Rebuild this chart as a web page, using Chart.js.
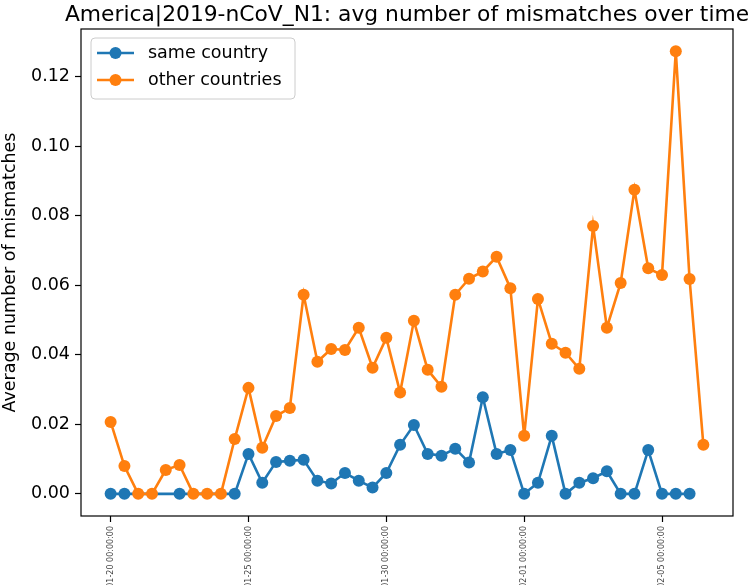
<!DOCTYPE html>
<html>
<head>
<meta charset="utf-8">
<script src="https://cdn.jsdelivr.net/npm/chart.js@4"></script>
<style>
html,body{margin:0;padding:0;background:#fff;overflow:hidden;}
#wrap{width:749px;height:585px;}
</style>
</head>
<body>
<div id="wrap"><canvas id="c" width="749" height="585"></canvas></div>
<script>
const chartTitle = 'America|2019-nCoV_N1: avg number of mismatches over time';
const yTitle = 'Average number of mismatches';
const seriesNames = ['same country', 'other countries'];
const tickIndex = [0, 10, 20, 30, 40];
const tickLabels = ['2020-01-20 00:00:00', '2020-01-25 00:00:00', '2020-01-30 00:00:00', '2020-02-01 00:00:00', '2020-02-05 00:00:00'];
const yTicks = [0, 0.02, 0.04, 0.06, 0.08, 0.10, 0.12];

const sameCountry = [0, 0, null, null, null, 0, null, null, null, 0,
  0.0115, 0.0032, 0.0092, 0.0095, 0.0098, 0.0038, 0.0030, 0.0060, 0.0038, 0.0018,
  0.0060, 0.0141, 0.0198, 0.0115, 0.0110, 0.0130, 0.0090, 0.0278, 0.0115, 0.0126,
  0, 0.0032, 0.0167, 0, 0.0032, 0.0045, 0.0065, 0, 0, 0.0126,
  0, 0, 0, null];
const otherCountries = [0.0207, 0.0080, 0, 0, 0.0069, 0.0083, 0, 0, 0, 0.0158,
  0.0305, 0.0133, 0.0224, 0.0247, 0.0573, 0.0380, 0.0417, 0.0414, 0.0478, 0.0363,
  0.0449, 0.0292, 0.0498, 0.0357, 0.0308, 0.0573, 0.0619, 0.0640, 0.0682, 0.0592,
  0.0167, 0.0561, 0.0432, 0.0406, 0.0360, 0.0771, 0.0478, 0.0607, 0.0875, 0.0649,
  0.0630, 0.1274, 0.0618, 0.0141];

const BLUE = '#1f77b4', ORANGE = '#ff7f0e';
const FONT = "'DejaVu Sans', sans-serif";

function toXY(arr){ return arr.map((v,i)=>({x:i, y:v})); }

const n = otherCountries.length;
const xMargin = (n-1)*0.05;
const allVals = sameCountry.concat(otherCountries).filter(v=>v!==null);
const yMinD = Math.min(...allVals), yMaxD = Math.max(...allVals);
const yMargin = (yMaxD - yMinD)*0.05;

const framePlugin = {
  id:'frame',
  afterDraw(chart){
    const ctx = chart.ctx;
    const xs = chart.scales.x, ys = chart.scales.y;
    const L = xs.getPixelForValue(xs.min), R = xs.getPixelForValue(xs.max);
    const T = ys.getPixelForValue(ys.max), B = ys.getPixelForValue(ys.min);
    ctx.save();
    ctx.strokeStyle = '#000'; ctx.lineWidth = 1.2;
    ctx.strokeRect(L, T, R-L, B-T);
    // title
    ctx.fillStyle = '#000';
    ctx.font = "21.8px " + FONT;
    ctx.textAlign = 'center'; ctx.textBaseline = 'alphabetic';
    ctx.fillText(chartTitle, (L+R)/2, 21);
    // legend
    const lx = 91, ly = 38, lw = 204, lh = 61, r = 4;
    ctx.beginPath();
    ctx.moveTo(lx+r, ly); ctx.lineTo(lx+lw-r, ly); ctx.quadraticCurveTo(lx+lw, ly, lx+lw, ly+r);
    ctx.lineTo(lx+lw, ly+lh-r); ctx.quadraticCurveTo(lx+lw, ly+lh, lx+lw-r, ly+lh);
    ctx.lineTo(lx+r, ly+lh); ctx.quadraticCurveTo(lx, ly+lh, lx, ly+lh-r);
    ctx.lineTo(lx, ly+r); ctx.quadraticCurveTo(lx, ly, lx+r, ly);
    ctx.closePath();
    ctx.fillStyle = 'rgba(255,255,255,0.8)'; ctx.fill();
    ctx.strokeStyle = '#cccccc'; ctx.lineWidth = 1; ctx.stroke();
    const ds = chart.data.datasets;
    const rows = [53, 80];
    ds.forEach((d, i)=>{
      const y = rows[i];
      ctx.strokeStyle = d.borderColor; ctx.lineWidth = 2.6;
      ctx.beginPath(); ctx.moveTo(97, y); ctx.lineTo(134, y); ctx.stroke();
      ctx.fillStyle = d.backgroundColor;
      ctx.beginPath(); ctx.arc(115.5, y, 6, 0, Math.PI*2); ctx.fill();
      ctx.fillStyle = '#000'; ctx.font = "17.5px " + FONT;
      ctx.textAlign = 'left'; ctx.textBaseline = 'middle';
      ctx.fillText(d.label, 148, y);
    });
    ctx.restore();
  }
};

new Chart(document.getElementById('c'), {
  type:'line',
  data:{
    datasets:[
      {label:seriesNames[0], data:toXY(sameCountry), borderColor:BLUE, backgroundColor:BLUE,
       pointBackgroundColor:BLUE, pointBorderColor:BLUE, borderWidth:2.6, pointRadius:6, pointBorderWidth:0,
       spanGaps:true, tension:0, order:1, clip:false},
      {label:seriesNames[1], data:toXY(otherCountries), borderColor:ORANGE, backgroundColor:ORANGE,
       pointBackgroundColor:ORANGE, pointBorderColor:ORANGE, borderWidth:2.6, pointRadius:6, pointBorderWidth:0,
       spanGaps:true, tension:0, order:0, clip:false}
    ]
  },
  options:{
    responsive:false, animation:false,
    layout:{padding:{top:29, right:16, bottom:0, left:0}},
    plugins:{legend:{display:false}, title:{display:false}, tooltip:{enabled:false}},
    scales:{
      x:{type:'linear', min:-xMargin, max:(n-1)+xMargin,
        afterBuildTicks(s){ s.ticks = tickIndex.map(v=>({value:v})); },
        afterFit(s){ s.height = 69; },
        grid:{drawOnChartArea:false, drawTicks:true, tickLength:6, color:'#000', tickWidth:1.2},
        border:{display:false},
        ticks:{minRotation:90, maxRotation:90, autoSkip:false, padding:4, color:'#444',
          font:{family:FONT, size:8},
          callback(v){ const k = tickIndex.indexOf(v); return k>=0 ? tickLabels[k] : ''; }}
      },
      y:{type:'linear', min:yMinD - yMargin, max:yMaxD + yMargin,
        afterBuildTicks(s){ s.ticks = yTicks.map(v=>({value:v})); },
        afterFit(s){ s.width = 81; },
        grid:{drawOnChartArea:false, drawTicks:true, tickLength:6, color:'#000', tickWidth:1.2},
        border:{display:false},
        title:{display:true, text:yTitle, color:'#000', font:{family:FONT, size:17.5}, padding:{top:0,bottom:0}},
        ticks:{padding:5, color:'#000', font:{family:FONT, size:17.5},
          callback(v){ return v.toFixed(2); }}
      }
    }
  },
  plugins:[framePlugin]
});
</script>
</body>
</html>
